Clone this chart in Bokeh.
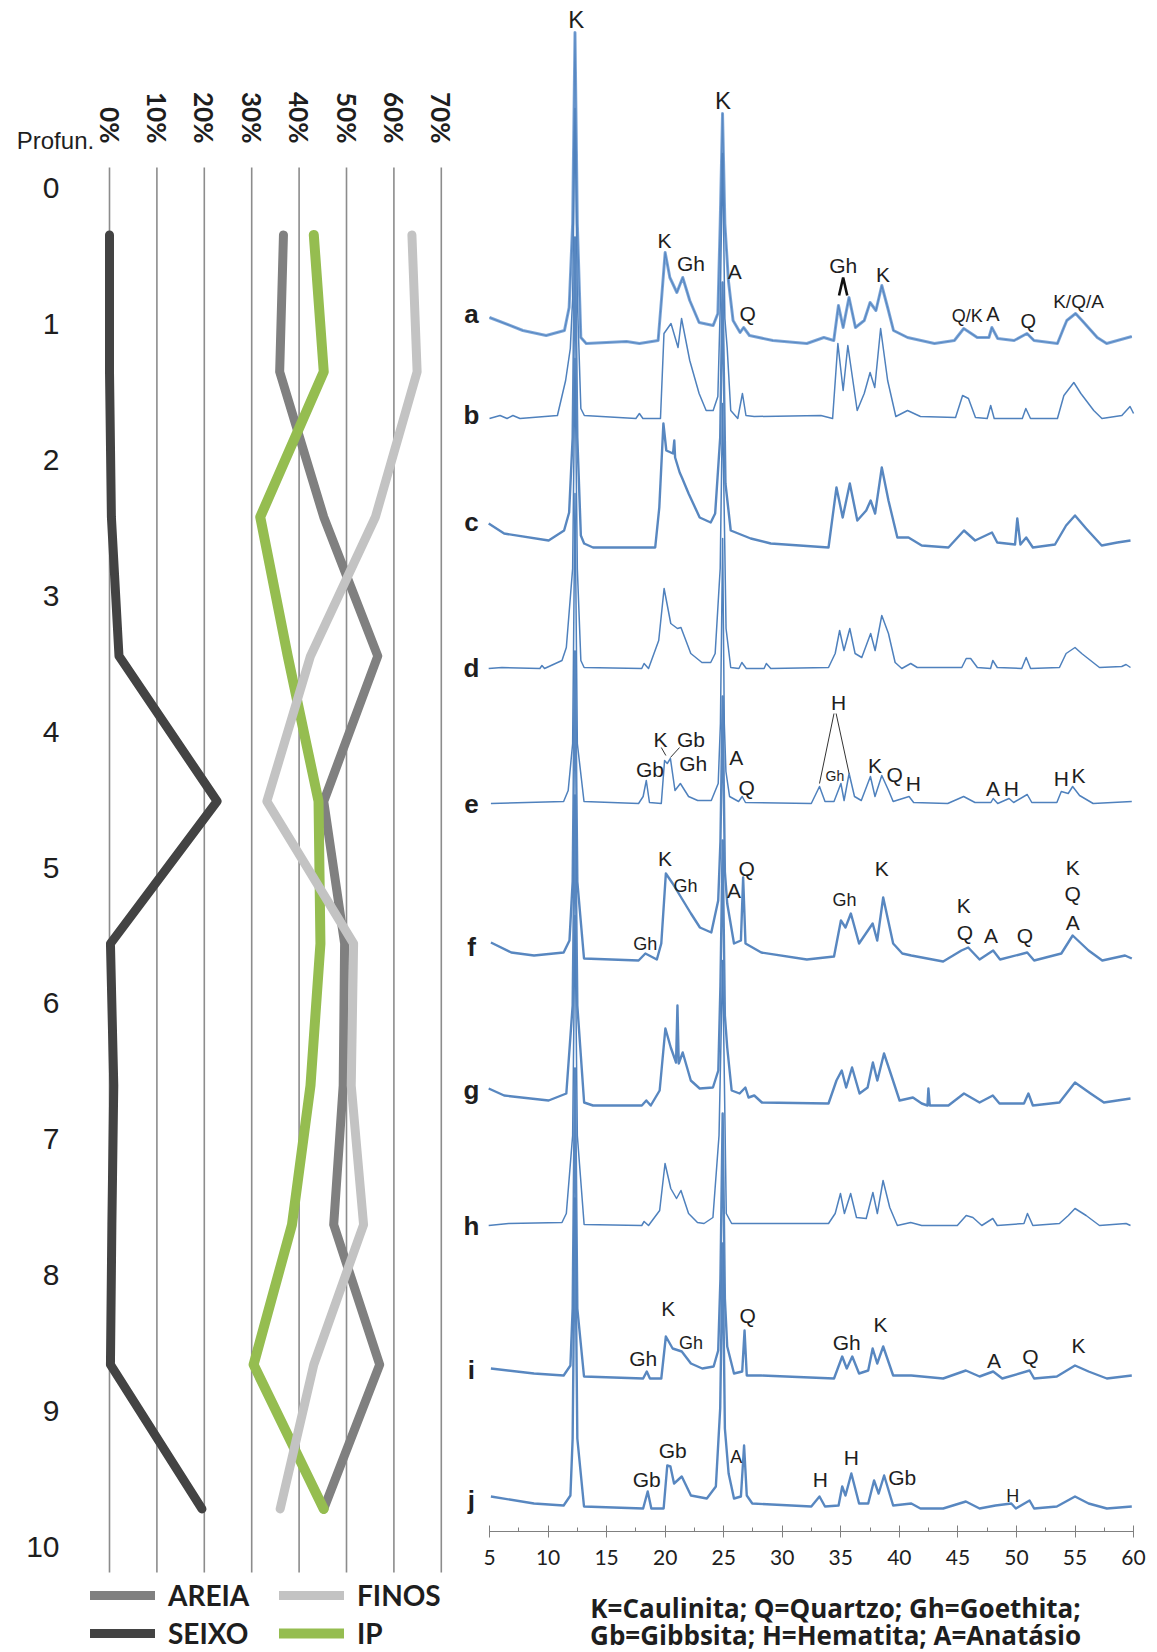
import math
from bokeh.plotting import figure
from bokeh.models import (Range1d, FixedTicker, PrintfTickFormatter, Legend, LegendItem,
                          Label, ColumnDataSource, LinearAxis)
from bokeh.embed import file_html
from bokeh.resources import INLINE
from bokeh.core.properties import value

# ---------------- left panel: granulometry profile ----------------
DEPTH = [0.345, 1.352, 2.421, 3.444, 4.513, 5.560, 6.605, 7.628, 8.658, 9.720]
AREIA = [36.7, 35.9, 45.2, 56.6, 45.2, 49.6, 49.3, 47.3, 57.0, 45.2]
SEIXO = [0.0, 0.0, 0.4, 2.0, 22.7, 0.2, 0.9, 0.5, 0.2, 19.5]
FINOS = [63.8, 64.9, 56.1, 42.4, 33.2, 51.5, 51.0, 53.6, 43.1, 36.0]
IP = [43.1, 45.2, 31.8, 37.6, 44.1, 44.5, 42.4, 38.5, 30.4, 45.2]
PCT_TICKS = [0, 10, 20, 30, 40, 50, 60, 70]
DEPTH_TICKS = [0, 1, 2, 3, 4, 5, 6, 7, 8, 9, 10]

# ---------------- right panel: XRD patterns (2theta, intensity) ----------------
PAT_A = [(5.0, 26), (7.85, 13), (9.84, 8), (11.4, 13), (11.8, 36), (12.1, 120), (12.3, 311), (12.5, 120),
         (12.8, 6), (13.26, 0), (16.7, 2), (17.8, 0), (19.4, 3), (19.7, 46), (20.0, 91), (20.4, 66),
         (21.0, 51), (21.5, 66), (22.1, 43), (22.9, 21), (24.1, 18), (24.5, 30), (24.7, 120), (24.9, 230),
         (25.1, 120), (25.4, 63), (25.8, 23), (26.4, 11), (26.7, 16), (27.2, 8), (29.2, 3), (32.1, 0),
         (33.55, 6), (34.4, 3), (34.8, 38), (35.2, 16), (35.7, 46), (36.25, 16), (37.0, 23), (37.5, 41),
         (38.0, 33), (38.5, 58), (39.0, 36), (39.5, 13), (40.7, 6), (43.0, 0), (44.7, 3), (45.5, 15),
         (46.65, 6), (47.65, 6), (47.9, 16), (48.4, 5), (49.8, 3), (50.9, 10), (51.5, 3), (53.5, 0),
         (54.05, 16), (54.3, 23), (55.05, 30), (55.6, 23), (56.9, 6), (57.7, 0), (59.85, 7)]
PAT_B = [(5.0, 0), (5.9, 3), (6.5, 0), (7.0, 3), (7.6, 0), (10.8, 3), (11.5, 38), (11.9, 70), (12.1, 120),
         (12.3, 310), (12.5, 120), (12.8, 10), (13.1, 3), (17.5, 0), (17.8, 5), (18.1, 0), (19.6, 0),
         (19.9, 85), (20.5, 95), (21.1, 71), (21.4, 100), (22.1, 58), (22.9, 25), (23.5, 8), (24.1, 8),
         (24.5, 22), (24.7, 110), (24.9, 265), (25.1, 100), (25.3, 70), (25.6, 8), (26.2, 0), (26.6, 25),
         (26.9, 3), (27.6, 2), (33.3, 3), (34.3, 0), (34.75, 75), (35.2, 28), (35.6, 73), (36.4, 8),
         (37.0, 25), (37.5, 46), (37.9, 31), (38.4, 90), (39.0, 38), (39.7, 2), (40.7, 8), (41.8, 2),
         (44.8, 1), (45.4, 23), (45.9, 20), (46.5, 1), (47.5, 0), (47.8, 13), (48.1, 0), (50.5, 0),
         (50.8, 10), (51.2, 0), (53.5, 0), (54.05, 23), (54.9, 36), (55.5, 25), (56.6, 8), (57.3, 0),
         (59.0, 3), (59.7, 12), (60.0, 5)]
PAT_C = [(4.93, 24), (6.25, 14), (10.05, 7), (11.37, 17), (11.8, 35), (12.1, 110), (12.3, 310), (12.5, 110),
         (12.8, 12), (13.08, 4), (13.84, 0), (19.15, 0), (19.5, 40), (19.85, 124), (20.10, 97), (20.67, 94),
         (20.78, 107), (20.85, 90), (21.24, 75), (21.43, 70), (22.0, 54), (22.95, 30), (23.89, 25),
         (24.27, 34), (24.7, 110), (24.9, 265), (25.15, 64), (25.60, 17), (27.31, 9), (29.02, 4),
         (33.95, 0), (34.63, 60), (35.16, 30), (35.77, 64), (36.41, 27), (37.17, 37), (37.55, 47),
         (37.93, 34), (38.5, 80), (39.07, 47), (39.83, 10), (40.78, 10), (41.91, 2), (44.19, 0),
         (45.52, 17), (46.47, 7), (47.91, 15), (48.36, 5), (49.88, 3), (50.07, 29), (50.34, 3),
         (50.83, 10), (51.40, 0), (53.29, 3), (54.24, 22), (55.0, 32), (55.95, 19), (57.28, 2),
         (58.61, 5), (59.74, 7)]
PAT_D = [(4.93, 0), (6.06, 1), (9.3, 0), (9.48, 3), (9.7, 0), (11.19, 8), (11.56, 21), (12.1, 100),
         (12.3, 310), (12.5, 100), (12.8, 8), (13.08, 1), (18.0, 0), (18.20, 5), (18.58, 0), (19.45, 28),
         (19.91, 80), (20.48, 45), (21.05, 40), (21.35, 41), (22.19, 15), (23.14, 6), (23.89, 6),
         (24.27, 15), (24.7, 100), (24.9, 265), (25.2, 40), (25.60, 1), (26.3, 0), (26.55, 6), (26.93, 0),
         (28.45, 0), (28.64, 5), (29.02, 0), (33.95, 1), (34.52, 15), (34.9, 38), (35.27, 18), (35.77, 40),
         (36.22, 15), (36.79, 11), (37.55, 35), (37.93, 18), (38.5, 53), (39.07, 35), (39.64, 6),
         (40.21, 0), (40.97, 5), (41.53, 1), (45.33, 1), (45.71, 10), (46.09, 10), (46.66, 1), (47.79, 0),
         (47.98, 8), (48.36, 1), (50.45, 0), (50.83, 11), (51.21, 0), (53.67, 1), (54.24, 15), (55.0, 21),
         (55.57, 15), (57.09, 1), (58.99, 2), (59.36, 4), (59.74, 1)]
PAT_E = [(5.12, 0), (11.33, 2), (11.72, 13), (12.1, 60), (12.3, 310), (12.5, 60), (13.07, 2), (17.73, 0),
         (18.12, 7), (18.39, 23), (18.66, 1), (19.67, 0), (19.95, 43), (20.18, 40), (20.45, 45),
         (20.84, 13), (21.30, 20), (22.00, 7), (22.78, 3), (23.94, 3), (24.53, 20), (24.72, 80),
         (24.91, 265), (25.05, 80), (25.19, 32), (25.50, 7), (26.27, 2), (26.58, 7), (26.86, 1),
         (32.48, 0), (33.18, 17), (33.65, 2), (34.42, 2), (35.01, 20), (35.28, 3), (35.71, 30),
         (36.17, 7), (36.75, 3), (37.53, 27), (37.92, 7), (38.5, 28), (39.08, 13), (39.47, 2),
         (40.83, 7), (41.22, 1), (44.13, 0), (45.49, 7), (46.46, 1), (47.82, 1), (48.01, 5), (48.40, 0),
         (49.37, 5), (49.76, 1), (50.92, 9), (51.31, 1), (53.45, 1), (53.83, 12), (54.42, 10),
         (54.80, 17), (55.39, 8), (56.55, 0), (59.85, 2)]
PAT_F = [(5.12, 19), (6.86, 9), (8.80, 6), (11.33, 9), (11.83, 21), (12.1, 80), (12.3, 310), (12.5, 80),
         (13.07, 3), (17.73, 1), (18.31, 8), (19.29, 2), (19.67, 18), (20.06, 88), (20.64, 78),
         (21.42, 63), (22.20, 48), (22.97, 34), (23.94, 29), (24.53, 61), (24.72, 120), (24.91, 265),
         (25.1, 90), (25.30, 58), (25.88, 18), (26.47, 21), (26.66, 84), (26.86, 18), (28.21, 9),
         (32.10, 2), (34.42, 5), (35.01, 41), (35.40, 34), (35.86, 48), (36.56, 18), (37.72, 38),
         (38.11, 21), (38.62, 64), (39.47, 18), (40.25, 8), (41.02, 6), (43.74, 0), (45.30, 11),
         (45.88, 14), (46.85, 2), (48.01, 11), (48.60, 2), (50.92, 9), (51.51, 1), (53.83, 8),
         (54.80, 26), (56.16, 11), (57.33, 1), (59.27, 6), (59.85, 3)]
PAT_G = [(4.93, 17), (6.25, 10), (10.05, 5), (11.56, 12), (12.1, 100), (12.3, 310), (12.5, 100),
         (13.08, 3), (13.84, 0), (18.01, 0), (18.39, 5), (18.77, 0), (19.53, 15), (20.02, 77), (20.48, 58),
         (20.93, 43), (21.05, 100), (21.16, 42), (21.50, 53), (22.19, 25), (22.95, 17), (24.08, 18),
         (24.54, 35), (24.72, 120), (24.91, 265), (25.1, 90), (25.30, 58), (25.68, 15), (26.36, 12),
         (26.85, 18), (27.12, 8), (27.61, 10), (28.26, 3), (33.95, 2), (34.63, 25), (35.08, 35),
         (35.46, 18), (35.96, 38), (36.60, 12), (37.29, 18), (37.74, 43), (38.12, 25), (38.69, 52),
         (39.26, 32), (40.02, 5), (41.16, 8), (41.91, 2), (42.40, 0), (42.48, 17), (42.60, 0), (44.19, 0),
         (45.52, 12), (46.85, 3), (47.98, 10), (48.55, 2), (50.64, 2), (51.02, 12), (51.40, 0),
         (53.67, 3), (55.0, 23), (56.33, 12), (57.47, 3), (59.74, 7)]
PAT_H = [(4.93, 0), (6.63, 2), (11.19, 3), (11.56, 12), (12.1, 90), (12.3, 310), (12.5, 90), (13.08, 1),
         (18.0, 0), (18.20, 4), (18.58, 0), (19.53, 15), (19.99, 62), (20.48, 37), (20.97, 27),
         (21.35, 35), (22.0, 12), (22.76, 3), (23.32, 2), (24.08, 8), (24.6, 90), (24.91, 265),
         (25.22, 12), (25.68, 2), (27.5, 2), (33.95, 2), (34.52, 12), (34.97, 32), (35.31, 12),
         (35.84, 32), (36.34, 8), (37.17, 7), (37.74, 33), (38.12, 12), (38.61, 45), (39.18, 18),
         (39.83, 0), (40.97, 3), (41.91, 0), (44.95, 0), (45.71, 10), (46.28, 8), (47.04, 0), (47.98, 7),
         (48.36, 0), (50.64, 2), (50.94, 12), (51.40, 0), (53.67, 2), (54.43, 10), (55.0, 17),
         (55.95, 10), (57.09, 0), (59.36, 2), (59.74, 0)]
PAT_I = [(5.12, 10), (8.80, 5), (11.33, 3), (11.91, 13), (12.1, 70), (12.3, 310), (12.5, 70), (13.07, 2),
         (18.12, 0), (18.43, 7), (18.70, 0), (19.67, 0), (20.06, 42), (20.64, 30), (21.42, 27),
         (22.20, 15), (23.17, 10), (24.14, 12), (24.53, 28), (24.72, 100), (24.91, 265), (25.1, 80),
         (25.30, 32), (25.88, 5), (26.58, 7), (26.78, 48), (26.97, 3), (28.21, 3), (34.42, 0),
         (35.12, 22), (35.51, 10), (35.98, 22), (36.56, 5), (37.34, 8), (37.72, 30), (38.11, 15),
         (38.62, 32), (39.47, 3), (41.02, 3), (43.74, 0), (45.68, 8), (46.85, 2), (48.01, 7), (48.79, 0),
         (51.12, 8), (51.51, 0), (53.45, 2), (55.00, 13), (56.16, 7), (57.72, 0), (59.85, 3)]
PAT_J = [(5.12, 12), (8.80, 5), (11.33, 3), (11.91, 13), (12.1, 70), (12.3, 310), (12.5, 70), (13.07, 2),
         (18.12, 0), (18.51, 17), (18.82, 0), (19.87, 0), (20.18, 43), (20.45, 42), (20.76, 25),
         (21.42, 32), (22.20, 13), (23.56, 10), (24.33, 22), (24.7, 100), (24.91, 265), (25.1, 80),
         (25.42, 35), (25.88, 10), (26.47, 12), (26.74, 63), (26.97, 13), (27.44, 5), (32.48, 2),
         (33.18, 12), (33.65, 2), (34.81, 3), (35.12, 22), (35.40, 13), (35.90, 35), (36.56, 5),
         (37.34, 5), (37.84, 28), (38.23, 15), (38.70, 33), (39.47, 3), (41.02, 5), (41.80, 0),
         (43.74, 0), (45.68, 7), (46.85, 0), (48.21, 3), (49.56, 5), (49.95, 0), (51.12, 8), (51.51, 0),
         (53.45, 2), (55.00, 12), (56.16, 5), (57.72, 0), (59.85, 2)]

SAMPLES = ["a", "b", "c", "d", "e", "f", "g", "h", "i", "j"]
PATTERNS = [PAT_A, PAT_B, PAT_C, PAT_D, PAT_E, PAT_F, PAT_G, PAT_H, PAT_I, PAT_J]
X_TICKS = [5, 10, 15, 20, 25, 30, 35, 40, 45, 50, 55, 60]
X_MINOR = [7.5, 12.5, 17.5, 22.5, 27.5, 32.5, 37.5, 42.5, 47.5, 52.5, 57.5]

# mineral annotations: (text, 2theta, height, font px)
MINERAL_LABELS = [
    ("K", 12.4, 1512, 24), ("K", 24.95, 1431, 24), ("K", 19.95, 1291, 21), ("Gh", 22.2, 1268, 21),
    ("A", 25.95, 1260, 21), ("Q", 27.05, 1218, 21), ("Gh", 35.2, 1266, 21),
    ("K", 38.6, 1257, 21), ("Q/K", 45.8, 1216, 18), ("A", 48.0, 1218, 20), ("Q", 51.0, 1211, 20),
    ("K/Q/A", 55.3, 1230, 19),
    ("H", 34.81, 829, 21), ("K", 19.6, 792, 21), ("Gb", 22.2, 792, 21), ("Gb", 18.7, 762, 21),
    ("Gh", 22.4, 768, 21), ("A", 26.08, 774, 21), ("Q", 26.97, 744, 21), ("Gh", 34.5, 756, 14),
    ("K", 37.92, 766, 21), ("Q", 39.6, 757, 21), ("H", 41.2, 748, 21), ("A", 48.0, 743, 21),
    ("H", 49.56, 743, 21), ("H", 53.83, 753, 21), ("K", 55.3, 756, 21),
    ("K", 19.98, 673, 21), ("Gh", 21.73, 646, 18), ("Q", 26.97, 663, 21), ("A", 25.88, 641, 21),
    ("Gh", 18.31, 588, 18), ("Gh", 35.32, 632, 18), ("K", 38.5, 663, 21), ("K", 45.49, 626, 21),
    ("Q", 45.6, 599, 21), ("A", 47.82, 596, 21), ("Q", 50.73, 596, 21), ("K", 54.8, 664, 21),
    ("Q", 54.8, 638, 21), ("A", 54.8, 609, 21),
    ("K", 20.26, 223, 21), ("Gh", 22.2, 189, 18), ("Gh", 18.12, 173, 21), ("Q", 27.05, 216, 21),
    ("Gh", 35.5, 189, 21), ("K", 38.4, 207, 21), ("A", 48.09, 171, 21), ("Q", 51.2, 175, 21),
    ("K", 55.3, 186, 21),
    ("Gb", 20.64, 81, 21), ("Gb", 18.43, 52, 21), ("A", 26.08, 75, 18), ("H", 33.26, 52, 21),
    ("H", 35.9, 74, 21), ("Gb", 40.25, 54, 21), ("H", 49.68, 36, 18),
]
CONNECTORS = [(34.42, 818, 33.18, 748), (34.6, 818, 35.71, 758),
              (19.67, 784, 20.06, 776), (21.23, 784, 20.45, 774)]
CHEVRON = [(34.85, 1236, 35.2, 1254, 35.55, 1236)]

# ---------------- layout constants ----------------
OFFSETS = [1188, 1113, 984, 863, 728, 570, 426, 306, 153, 23]
LETTER_Y = [1218, 1117, 1010, 864, 728, 585, 442, 306, 162, 32]
LETTER_X = 3.46
NOISY = [True, False, True, False, False, True, True, False, True, True]
GRID_TOP, GRID_BOTTOM = -0.151, 10.188

BLUE = "#4f81bd"
TXT = "#1e1e1e"

p = figure(width=1157, height=1652, output_backend="svg", toolbar_location=None,
           x_range=Range1d(-36.76, 62.045), y_range=Range1d(-121, 1531),
           x_axis_location=None, y_axis_location=None,
           min_border_left=0, min_border_right=0, min_border_top=0, min_border_bottom=0)
p.extra_x_ranges = {"pct": Range1d(-22.996, 221.097)}
p.extra_y_ranges = {"depth": Range1d(10.7763, -1.3797)}
p.outline_line_color = None
p.xgrid.visible = False
p.ygrid.visible = False
p.background_fill_color = "white"

# ---- left panel axes ----
ax_pct = LinearAxis(x_range_name="pct", y_range_name="depth", fixed_location=GRID_TOP,
                    ticker=FixedTicker(ticks=PCT_TICKS), formatter=PrintfTickFormatter(format="%d%%"),
                    major_label_orientation=-math.pi / 2, axis_line_color=None,
                    major_tick_line_color=None, minor_tick_line_color=None, major_label_standoff=18,
                    major_label_text_font="Lato", major_label_text_font_style="bold",
                    major_label_text_font_size="26px", major_label_text_color=TXT)
p.add_layout(ax_pct, "above")

ax_depth = LinearAxis(x_range_name="pct", y_range_name="depth", fixed_location=-6.54,
                      ticker=FixedTicker(ticks=DEPTH_TICKS), axis_line_color=None,
                      major_tick_line_color=None, minor_tick_line_color=None, major_label_standoff=13,
                      major_label_text_font="Liberation Sans", major_label_text_font_size="30px",
                      major_label_text_color=TXT)
p.add_layout(ax_depth, "left")

p.segment(x0=PCT_TICKS, y0=[GRID_TOP] * len(PCT_TICKS), x1=PCT_TICKS, y1=[GRID_BOTTOM] * len(PCT_TICKS),
          x_range_name="pct", y_range_name="depth", line_color="#8c8c8c", line_width=1.6)

LW = 9
r_areia = p.line(AREIA, DEPTH, x_range_name="pct", y_range_name="depth", line_color="#808080",
                 line_width=LW, line_cap="round", line_join="round")
r_seixo = p.line(SEIXO, DEPTH, x_range_name="pct", y_range_name="depth", line_color="#434343",
                 line_width=LW, line_cap="round", line_join="round")
r_ip = p.line(IP, DEPTH, x_range_name="pct", y_range_name="depth", line_color="#95bd50",
              line_width=LW + 1, line_cap="round", line_join="round")
r_finos = p.line(FINOS, DEPTH, x_range_name="pct", y_range_name="depth", line_color="#c3c3c3",
                 line_width=LW, line_cap="round", line_join="round")

legend = Legend(items=[LegendItem(label="AREIA", renderers=[r_areia]),
                       LegendItem(label="SEIXO", renderers=[r_seixo]),
                       LegendItem(label="FINOS", renderers=[r_finos]),
                       LegendItem(label="IP", renderers=[r_ip])],
                orientation="vertical", nrows=2, location=(90, 2),
                glyph_width=65, glyph_height=26, label_height=26, label_width=107,
                label_standoff=13, spacing=4, padding=0, margin=0,
                border_line_color=None, background_fill_alpha=0,
                label_text_font="Lato", label_text_font_style="bold",
                label_text_font_size="28px", label_text_color=TXT)
p.add_layout(legend)

p.add_layout(Label(x=-11.4, y=-0.35, x_range_name="pct", y_range_name="depth", text="Profun.",
                   text_align="center", text_baseline="middle",
                   text_font="Liberation Sans", text_font_size="24px", text_color=TXT))

# ---- right panel ----
ax_tt = LinearAxis(fixed_location=0, bounds=(5, 60), ticker=FixedTicker(ticks=X_TICKS, minor_ticks=X_MINOR),
                   axis_line_color="#808080", axis_line_width=1.2, major_tick_line_color="#808080",
                   minor_tick_line_color="#808080", major_tick_in=6, major_tick_out=6,
                   minor_tick_in=4, minor_tick_out=0, major_label_standoff=12,
                   major_label_text_font="Lato", major_label_text_font_size="21px",
                   major_label_text_color=TXT)
p.add_layout(ax_tt, "below")

for pts, off, noisy, name in zip(PATTERNS, OFFSETS, NOISY, SAMPLES):
    xs = [q[0] for q in pts]
    ys = [off + q[1] for q in pts]
    if name == "a":
        p.line(xs, ys, line_color="#7fa7d8", line_width=3.0, line_join="round")
        p.line(xs, ys, line_color=BLUE, line_width=1.2, line_join="round", line_alpha=0.8)
    elif noisy:
        p.line(xs, ys, line_color=BLUE, line_width=2.4, line_join="round", line_alpha=0.95)
    else:
        p.line(xs, ys, line_color=BLUE, line_width=1.5, line_join="round")

p.segment(x0=[c[0] for c in CONNECTORS], y0=[c[1] for c in CONNECTORS],
          x1=[c[2] for c in CONNECTORS], y1=[c[3] for c in CONNECTORS],
          line_color="#333333", line_width=1)
for c in CHEVRON:
    p.line([c[0], c[2], c[4]], [c[1], c[3], c[5]], line_color="#111111", line_width=2.6)

lab_src = ColumnDataSource(dict(
    text=[m[0] for m in MINERAL_LABELS], x=[m[1] for m in MINERAL_LABELS],
    y=[m[2] for m in MINERAL_LABELS], size=["%dpx" % m[3] for m in MINERAL_LABELS]))
p.text(x="x", y="y", text="text", source=lab_src, text_font=value("Liberation Sans"),
       text_font_size="size", text_align="center", text_baseline="middle", text_color=TXT)

p.text(x=[LETTER_X] * len(SAMPLES), y=LETTER_Y, text=SAMPLES, text_font=value("Liberation Sans"),
       text_font_style="bold", text_font_size="26px", text_align="center",
       text_baseline="middle", text_color=TXT)

p.add_layout(Label(x=34.55, y=-76, text="K=Caulinita; Q=Quartzo; Gh=Goethita;",
                   text_font="Open Sans", text_font_style="bold", text_font_size="26px",
                   text_align="center", text_baseline="middle", text_color=TXT))
p.add_layout(Label(x=34.55, y=-103, text="Gb=Gibbsita; H=Hematita; A=Anatásio",
                   text_font="Open Sans", text_font_style="bold", text_font_size="26px",
                   text_align="center", text_baseline="middle", text_color=TXT))

open("out.html", "w").write(file_html(p, INLINE))
